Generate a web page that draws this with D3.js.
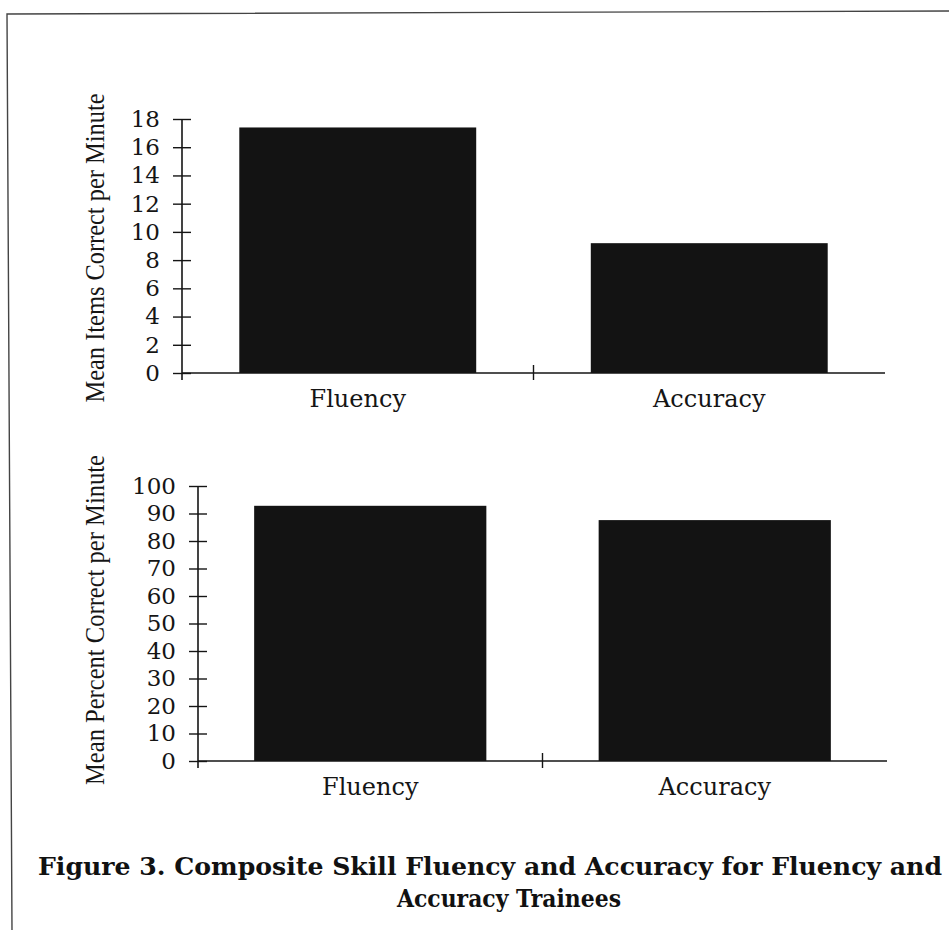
<!DOCTYPE html>
<html>
<head>
<meta charset="utf-8">
<script src="https://cdn.jsdelivr.net/npm/d3@7"></script>
<style>
  html, body { margin: 0; padding: 0; background: #fff; }
  svg { display: block; }
</style>
</head>
<body>
<div id="chart"></div>
<script>
// data
const categories = ["Fluency", "Accuracy"];
const itemsCorrect = [17.4, 9.2];      // mean items correct per minute
const percentCorrect = [92.8, 87.6];   // mean percent correct per minute
const itemsTicks = [0, 2, 4, 6, 8, 10, 12, 14, 16, 18];
const percentTicks = [0, 10, 20, 30, 40, 50, 60, 70, 80, 90, 100];
const captionLines = [
  "Figure 3. Composite Skill Fluency and Accuracy for Fluency and",
  "Accuracy Trainees"
];

const width = 949, height = 930;
const ink = "#151515";
const labelFont = "'DejaVu Serif', serif";
const titleFont = "'Liberation Serif', 'Times New Roman', serif";

const svg = d3.select("#chart").append("svg")
  .attr("width", width)
  .attr("height", height)
  .attr("viewBox", [0, 0, width, height]);

// page frame (top and left edges of the scanned box, slightly skewed)
svg.append("path")
  .attr("d", `M${width},11L7,14L12,${height}`)
  .attr("fill", "none")
  .attr("stroke", "#444")
  .attr("stroke-width", 1.4);

const panels = [
  { values: itemsCorrect, ticks: itemsTicks, max: 18,
    title: "Mean Items Correct per Minute", titleLen: 309, titleY: 248,
    left: 182, right: 885, top: 119, bottom: 373 },
  { values: percentCorrect, ticks: percentTicks, max: 100,
    title: "Mean Percent Correct per Minute", titleLen: 330, titleY: 620,
    left: 198, right: 887, top: 486, bottom: 761 }
];

panels.forEach(p => drawPanel(p));

function drawPanel(p) {
  const x = d3.scaleBand()
    .domain(categories)
    .range([p.left, p.right])
    .paddingInner(0.326)
    .paddingOuter(0.163);

  const y = d3.scaleLinear()
    .domain([0, p.max])
    .range([p.bottom, p.top]);

  const g = svg.append("g");

  // bars
  g.append("g")
    .selectAll("rect")
    .data(p.values)
    .join("rect")
    .attr("x", (d, i) => x(categories[i]))
    .attr("y", d => y(d))
    .attr("width", x.bandwidth())
    .attr("height", d => y(0) - y(d))
    .attr("fill", "#131313");

  // y axis, ticks crossing the line
  const yAxis = g.append("g")
    .attr("transform", `translate(${p.left},0)`)
    .call(d3.axisLeft(y)
      .tickValues(p.ticks)
      .tickSizeInner(9)
      .tickSizeOuter(0)
      .tickPadding(13));
  yAxis.select(".domain").remove();
  yAxis.append("line")
    .attr("y1", p.top).attr("y2", p.bottom + 7)
    .attr("stroke", ink).attr("stroke-width", 1.6);
  yAxis.selectAll(".tick line")
    .attr("x1", 9)
    .attr("stroke", ink).attr("stroke-width", 1.4);
  yAxis.selectAll(".tick text")
    .attr("fill", ink)
    .style("font-family", labelFont)
    .style("font-size", "23px");

  // x axis baseline with the divider tick between the groups
  g.append("line")
    .attr("x1", p.left).attr("x2", p.right)
    .attr("y1", p.bottom).attr("y2", p.bottom)
    .attr("stroke", ink).attr("stroke-width", 1.6);
  const mid = x(categories[1]) - x.step() * x.paddingInner() / 2;
  g.append("line")
    .attr("x1", mid).attr("x2", mid)
    .attr("y1", p.bottom - 8).attr("y2", p.bottom + 7)
    .attr("stroke", ink).attr("stroke-width", 1.4);

  // category labels
  g.append("g")
    .selectAll("text")
    .data(categories)
    .join("text")
    .attr("x", d => x(d) + x.bandwidth() / 2)
    .attr("y", p.bottom + 34)
    .attr("text-anchor", "middle")
    .attr("fill", ink)
    .style("font-family", labelFont)
    .style("font-size", "24px")
    .text(d => d);

  // rotated axis title
  g.append("text")
    .attr("transform", `translate(104,${p.titleY}) rotate(-90)`)
    .attr("text-anchor", "middle")
    .attr("textLength", p.titleLen)
    .attr("lengthAdjust", "spacingAndGlyphs")
    .attr("fill", ink)
    .style("font-family", titleFont)
    .style("font-size", "28px")
    .text(p.title);
}

// caption, two lines
const captionBox = [
  { x: 38, y: 875, len: 904 },
  { x: 397, y: 907, len: 224 }
];
svg.append("g")
  .selectAll("text")
  .data(captionLines)
  .join("text")
  .attr("x", (d, i) => captionBox[i].x)
  .attr("y", (d, i) => captionBox[i].y)
  .attr("textLength", (d, i) => captionBox[i].len)
  .attr("lengthAdjust", "spacingAndGlyphs")
  .attr("fill", "#111")
  .style("font-family", labelFont)
  .style("font-weight", "bold")
  .style("font-size", "24px")
  .text(d => d);
</script>
</body>
</html>
